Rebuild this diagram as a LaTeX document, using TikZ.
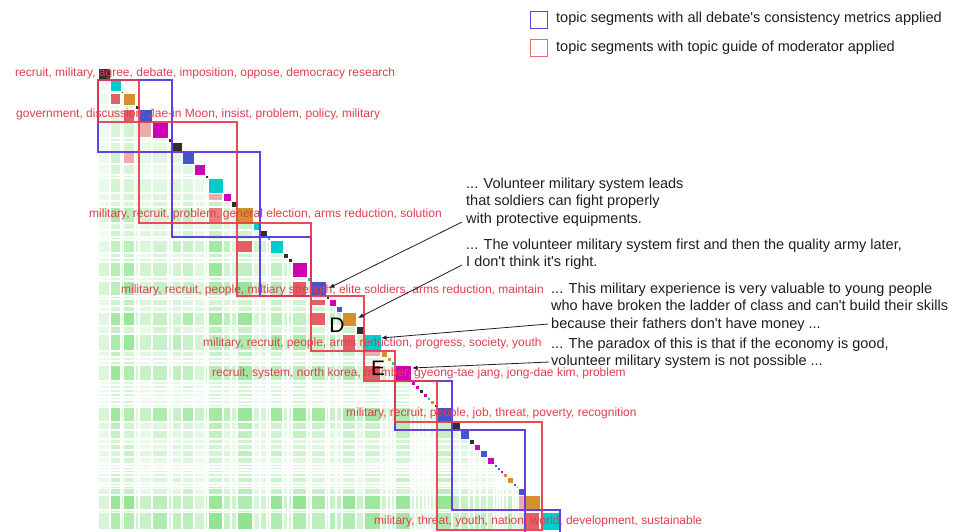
\documentclass[tikz,border=0pt]{standalone}
\usepackage{fontspec}
\setmainfont{Liberation Sans}
\usetikzlibrary{arrows.meta}
\definecolor{heat}{RGB}{140,226,140}
\definecolor{cDark}{RGB}{48,48,48}
\definecolor{cCyan}{RGB}{0,204,204}
\definecolor{cOrange}{RGB}{212,144,44}
\definecolor{cBlue}{RGB}{68,84,208}
\definecolor{cMag}{RGB}{208,0,180}
\definecolor{hiRed}{RGB}{224,96,100}
\definecolor{hiRedL}{RGB}{232,128,128}
\definecolor{hiPink}{RGB}{240,170,170}
\definecolor{segblue}{RGB}{100,64,228}
\definecolor{segred}{RGB}{232,56,72}
\definecolor{lab}{RGB}{226,62,78}
\definecolor{ink}{RGB}{30,30,30}
\tikzset{
  topic/.style={text=lab, font=\fontsize{12}{14}\selectfont, anchor=west, inner sep=0},
  quote/.style={text=ink, font=\fontsize{14.5}{17.5}\selectfont, align=left, anchor=north west, inner sep=0},
  legtext/.style={text=ink, font=\fontsize{14.5}{17.5}\selectfont, anchor=west, inner sep=0},
  bluebox/.style={draw=segblue, line width=1.3pt},
  redbox/.style={draw=segred, line width=1.5pt, draw opacity=.9},
  arr/.style={draw=ink, line width=.8pt, -{Latex[length=5.5pt,width=4.5pt]}},
  letter/.style={font=\fontsize{21}{21}\selectfont, text=black, inner sep=0},
  legbox/.style={minimum size=17pt, inner sep=0, line width=1.2pt},
}
% fill one off-diagonal cell: column segment #1, row segment #2
\newcommand\offcell[3]{%
  \edef\ocxa{\csname sa#1\endcsname}\edef\ocxb{\csname sb#1\endcsname}%
  \edef\ocya{\csname sa#2\endcsname}\edef\ocyb{\csname sb#2\endcsname}%
  \fill[#3] (\ocxa+0.7,\ocya-29.3) rectangle (\ocxb-0.7,\ocyb-30.7);}
\begin{document}
\begin{tikzpicture}[x=1pt,y=-1pt]
\useasboundingbox (0,0) rectangle (955,531);
\fill[white] (0,0) rectangle (955,531);
% sentence segments: start / end / colour / column weight / row weight
\foreach \a/\b/\c/\u/\v [count=\k from 0] in {
  98/110/cDark/.4/0, 110/121/cCyan/.9/.3, 121/123/cDark/.4/.3, 123/135/cOrange/.9/.35,
  135/139/cDark/.4/.3, 139/152/cBlue/.5/.4, 152/168/cMag/.65/.4, 168/172/cDark/.4/.35,
  172/182/cDark/.6/.4, 182/194/cBlue/.7/.45, 194/205/cMag/.45/.35, 205/208/cDark/.4/.35,
  208/223/cCyan/.95/.5, 223/231/cMag/.6/.45, 231/237/cDark/.45/.45, 237/253/cOrange/.95/.7,
  253/260/cCyan/.45/.45, 260/267/cDark/.5/.5, 267/270/cCyan/.4/.4, 270/283/cCyan/.8/.75,
  283/288/cDark/.45/.45, 288/292/cDark/.45/.45, 292/307/cMag/.85/.75, 307/311/cCyan/.4/.4,
  311/326/cBlue/.75/.8, 326/329/cDark/.4/.4, 329/336/cMag/.6/.55, 336/342/cBlue/.5/.5,
  342/356/cOrange/.85/.85, 356/364/cDark/.45/.5, 364/381/cCyan/.8/.85, 381/387/cOrange/.5/.5,
  387/391/cOrange/.4/.4, 391/395/cCyan/.4/.4, 395/411/cMag/.9/.85, 411/415/cMag/.4/.4,
  415/419/cMag/.4/.4, 419/423/cDark/.4/.4, 423/427/cMag/.4/.4, 427/430/cCyan/.4/.4,
  430/434/cOrange/.4/.4, 434/437/cDark/.4/.4, 437/452/cBlue/.9/.95, 452/460/cDark/.6/.6,
  460/469/cBlue/.6/.5, 469/474/cDark/.45/.4, 474/480/cMag/.5/.45, 480/487/cBlue/.5/.5,
  487/494/cMag/.5/.4, 494/497/cBlue/.4/.4, 497/500/cBlue/.4/.4, 500/503/cMag/.4/.4,
  503/507/cOrange/.4/.45, 507/513/cOrange/.5/.5, 513/516/cBlue/.4/.4, 516/518/cOrange/.4/.4,
  518/525/cBlue/.55/.6, 525/540/cOrange/.7/.95, 540/542/cDark/.4/.4, 542/560/cCyan/.8/.95}{
  \expandafter\xdef\csname sa\k\endcsname{\a}
  \expandafter\xdef\csname sb\k\endcsname{\b}
  \expandafter\xdef\csname sc\k\endcsname{\c}
  \expandafter\xdef\csname cw\k\endcsname{\u}
  \expandafter\xdef\csname rw\k\endcsname{\v}
}
% similarity heat map below the diagonal
\pgfmathsetseed{12}
\foreach \j in {1,...,59}{
  \pgfmathtruncatemacro\jm{\j-1}
  \foreach \i in {0,...,\jm}{
    \edef\xa{\csname sa\i\endcsname}\edef\xb{\csname sb\i\endcsname}
    \edef\ya{\csname sa\j\endcsname}\edef\yb{\csname sb\j\endcsname}
    \edef\wc{\csname cw\i\endcsname}\edef\wr{\csname rw\j\endcsname}
    \pgfmathtruncatemacro\pct{min(100,100*\wc*\wr*(0.75+0.45*rnd))}
    \fill[heat!\pct!white] (\xa+0.7,\ya-29.3) rectangle (\xb-0.7,\yb-30.7);
  }
}
% strongly related sentence pairs
\offcell{1}{3}{hiRed}
\offcell{3}{5}{hiRed}
\offcell{5}{6}{hiPink}
\offcell{3}{9}{hiPink}
\offcell{12}{13}{hiPink}
\offcell{12}{15}{hiRedL}
\offcell{15}{19}{hiRed}
\offcell{22}{24}{hiRed}
\offcell{24}{26}{hiRed}
\offcell{24}{28}{hiRed}
\offcell{28}{30}{hiRed}
\offcell{30}{31}{hiPink}
\offcell{30}{34}{hiRed}
\offcell{56}{57}{hiPink}
\offcell{57}{59}{hiRed}
% diagonal: one square per sentence
\foreach \k in {0,...,59}{
  \edef\xa{\csname sa\k\endcsname}\edef\xb{\csname sb\k\endcsname}
  \edef\cc{\csname sc\k\endcsname}
  \fill[\cc] (\xa+0.5,\xa-29.5) rectangle (\xb-0.5,\xb-30.5);
}
% topic segments from the consistency metrics
\draw[bluebox] (98,80) rectangle (172,152);
\draw[bluebox] (172,152) rectangle (260,237);
\draw[bluebox] (260,237) rectangle (311,296);
\draw[bluebox] (395,381) rectangle (452,430);
\draw[bluebox] (452,430) rectangle (525,510);
\draw[bluebox] (525,510) rectangle (560,534);
% topic segments from the moderator's guide
\draw[redbox] (98,80) rectangle (139,122);
\draw[redbox] (139,122) rectangle (237,223);
\draw[redbox] (237,223) rectangle (311,296);
\draw[redbox] (311,296) rectangle (364,351);
\draw[redbox] (364,351) rectangle (395,381);
\draw[redbox] (395,381) rectangle (437,422);
\draw[redbox] (437,422) rectangle (542,530);
% topic keywords
\node[topic] (k1) at (15,73) {recruit, military, agree, debate, imposition, oppose, democracy research};
\node[topic] (k2) at (16,114) {government, discussion, Jae-in Moon, insist, problem, policy, military};
\node[topic] (k3) at (89,214) {military, recruit, problem, general election, arms reduction, solution};
\node[topic] (k4) at (121,290) {military, recruit, people, miltiary strength, elite soldiers, arms reduction, maintain};
\node[topic] (k5) at (203,343) {military, recruit, people, arms reduction, progress, society, youth};
\node[topic] (k6) at (212,373) {recruit, system, north korea, member, gyeong-tae jang, jong-dae kim, problem};
\node[topic] (k7) at (346,413) {military, recruit, people, job, threat, poverty, recognition};
\node[topic] (k8) at (374,521) {military, threat, youth, nation, world, development, sustainable};
% quoted utterances
\node[quote] (q1) at (466,177.5) {... Volunteer military system leads\\that soldiers can fight properly\\with protective equipments.};
\node[quote] (q2) at (466,238.5) {... The volunteer military system first and then the quality army later,\\I don\textquotesingle t think it\textquotesingle s right.};
\node[quote] (q3) at (551,282.5) {... This military experience is very valuable to young people\\who have broken the ladder of class and can\textquotesingle t build their skills\\because their fathers don\textquotesingle t have money ...};
\node[quote] (q4) at (551,337.5) {... The paradox of this is that if the economy is good,\\volunteer military system is not possible ...};
\node[letter] (lD) at (337,325) {D};
\node[letter] (lE) at (378,368) {E};
% pointers from the quotes to their sentences
\coordinate (s1) at (462,222);
\coordinate (t1) at (329,288);
\coordinate (s2) at (462,265);
\coordinate (t2) at (358,318);
\coordinate (s3) at (548,324);
\coordinate (t3) at (381,338);
\coordinate (s4) at (549,362);
\coordinate (t4) at (412,368);
\draw[arr] (s1) -- (t1);
\draw[arr] (s2) -- (t2);
\draw[arr] (s3) -- (t3);
\draw[arr] (s4) -- (t4);
% legend
\node[legbox, draw=segblue] (lgb) at (539,20) {};
\node[legbox, draw=segred!75] (lgr) at (539,48) {};
\node[legtext] (lgbt) at (556,19) {topic segments with all debate\textquotesingle s consistency metrics applied};
\node[legtext] (lgrt) at (556,48) {topic segments with topic guide of moderator applied};
\end{tikzpicture}
\end{document}
